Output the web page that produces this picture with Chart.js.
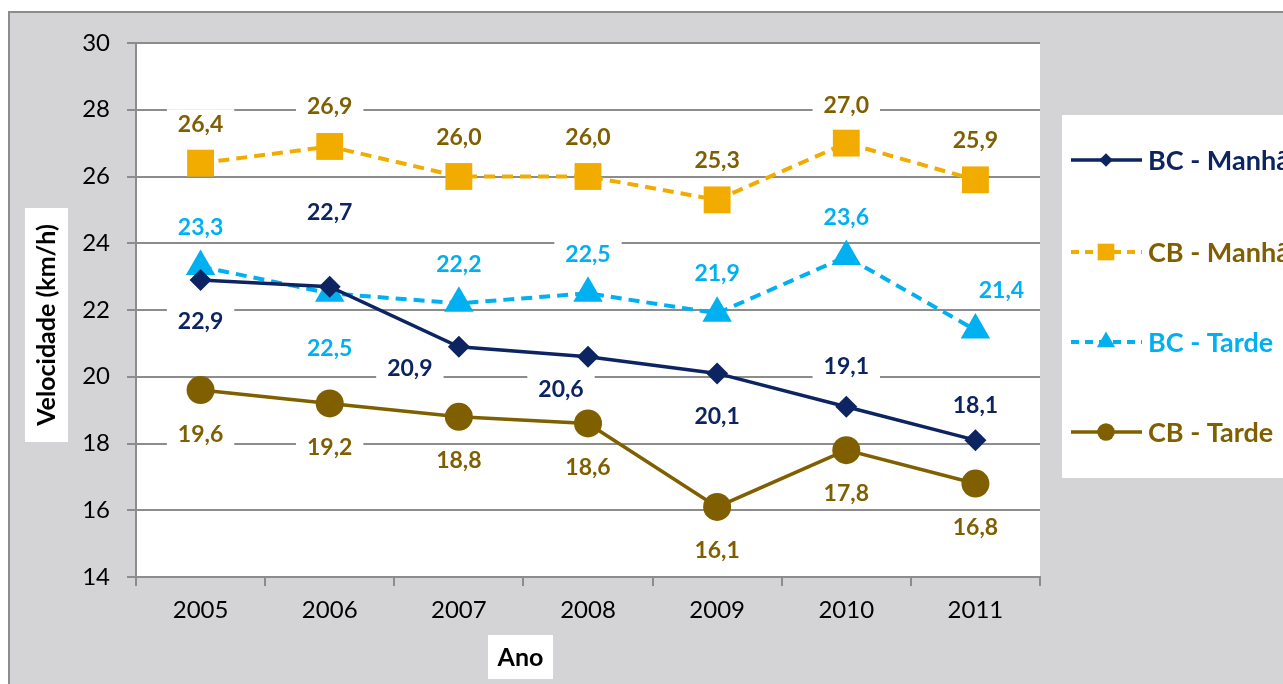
<!DOCTYPE html>
<html>
<head>
<meta charset="utf-8">
<script src="https://cdn.jsdelivr.net/npm/chart.js@4/dist/chart.umd.min.js"></script>
<style>
  html, body { margin: 0; padding: 0; background: #fff; }
  #wrap { width: 1283px; height: 684px; }
</style>
</head>
<body>
<div id="wrap"><canvas id="velocidade" width="1283" height="684"></canvas></div>
<script>
var anos = ["2005", "2006", "2007", "2008", "2009", "2010", "2011"];
var bcManha = [22.9, 22.7, 20.9, 20.6, 20.1, 19.1, 18.1];
var cbManha = [26.4, 26.9, 26.0, 26.0, 25.3, 27.0, 25.9];
var bcTarde = [23.3, 22.5, 22.2, 22.5, 21.9, 23.6, 21.4];
var cbTarde = [19.6, 19.2, 18.8, 18.6, 16.1, 17.8, 16.8];
var yTicks = [14, 16, 18, 20, 22, 24, 26, 28, 30];

// where each value label sits relative to its point, [dx, dy]
var posBcManha = [[0, 41], [0, -75], [-49, 21], [-27, 32], [0, 42], [0, -41], [0, -36]];
var posCbManha = [[0, -40], [0, -41], [0, -40], [0, -40], [0, -40], [0, -39], [0, -40]];
var posBcTarde = [[0, -40], [0, 54], [0, -40], [0, -40], [0, -41], [0, -40], [26, -40]];
var posCbTarde = [[0, 43], [0, 43], [0, 43], [0, 43], [0, 43], [0, 42], [0, 43]];

var NAVY = "#0c2461";
var GOLD = "#f2ac00";
var CYAN = "#00b0f0";
var BROWN = "#7f5f00";
var FONT = "Lato, 'Open Sans', sans-serif";

var series = [
  { label: "BC - Manhã", data: bcManha, color: NAVY, text: NAVY, dash: [], style: "rectRot", radius: 11, pos: posBcManha },
  { label: "CB - Manhã", data: cbManha, color: GOLD, text: BROWN, dash: [11, 7], style: "rect", radius: 19, pos: posCbManha },
  { label: "BC - Tarde", data: bcTarde, color: CYAN, text: CYAN, dash: [11, 7], style: "triangle", radius: 17, pos: posBcTarde },
  { label: "CB - Tarde", data: cbTarde, color: BROWN, text: BROWN, dash: [], style: "circle", radius: 14, pos: posCbTarde }
];

function fmt(v) {
  return v.toFixed(1).replace(".", ",");
}

// background frame, white plot area and axis titles
var moldura = {
  id: "moldura",
  beforeDraw: function(chart) {
    var ctx = chart.ctx;
    var a = chart.chartArea;
    ctx.save();
    ctx.fillStyle = "#fff";
    ctx.fillRect(0, 0, chart.width, chart.height);
    ctx.fillStyle = "#d4d4d6";
    ctx.fillRect(9, 12, chart.width, chart.height);
    ctx.strokeStyle = "#8c8c8c";
    ctx.lineWidth = 2;
    ctx.beginPath();
    ctx.moveTo(9, chart.height);
    ctx.lineTo(9, 12);
    ctx.lineTo(chart.width, 12);
    ctx.stroke();
    ctx.fillStyle = "#fff";
    ctx.fillRect(a.left, a.top, a.right - a.left, a.bottom - a.top);

    ctx.fillRect(25, 208, 43, 234);
    ctx.fillRect(488, 635, 65, 44);
    ctx.fillStyle = "#000";
    ctx.font = "bold 25px " + FONT;
    ctx.textAlign = "center";
    ctx.textBaseline = "middle";
    ctx.fillText("Ano", 520.5, 658);
    ctx.translate(47, 325);
    ctx.rotate(-Math.PI / 2);
    ctx.fillText("Velocidade (km/h)", 0, 0);
    ctx.restore();
  }
};

// value labels on white boxes
var rotulos = {
  id: "rotulos",
  afterDatasetsDraw: function(chart) {
    var ctx = chart.ctx;
    ctx.save();
    ctx.font = "bold 23px " + FONT;
    ctx.textAlign = "center";
    ctx.textBaseline = "middle";
    series.forEach(function(s, i) {
      var meta = chart.getDatasetMeta(i);
      meta.data.forEach(function(pt, j) {
        var txt = fmt(s.data[j]);
        var x = pt.x + s.pos[j][0];
        var y = pt.y + s.pos[j][1];
        var w = ctx.measureText(txt).width + 22;
        ctx.fillStyle = "#fff";
        ctx.fillRect(x - w / 2, y - 14, w, 28);
        ctx.fillStyle = s.text;
        ctx.fillText(txt, x, y + 1);
      });
    });
    ctx.restore();
  }
};

// legend box at the right
var legenda = {
  id: "legenda",
  afterDraw: function(chart) {
    var ctx = chart.ctx;
    var rows = [160, 252, 342, 432];
    ctx.save();
    ctx.fillStyle = "#fff";
    ctx.fillRect(1062, 115, 230, 363);
    series.forEach(function(s, i) {
      var y = rows[i];
      ctx.strokeStyle = s.color;
      ctx.lineWidth = s.dash.length ? 4 : 3.5;
      ctx.setLineDash(s.dash.length ? [8, 6] : []);
      ctx.beginPath();
      ctx.moveTo(1071, y);
      ctx.lineTo(1142, y);
      ctx.stroke();
      ctx.setLineDash([]);
      ctx.fillStyle = s.color;
      Chart.helpers.drawPoint(ctx, {
        pointStyle: s.style,
        radius: s.radius * 0.62,
        borderWidth: 0
      }, 1106, y);
      ctx.fillStyle = s.text;
      ctx.font = "bold 27px " + FONT;
      ctx.textBaseline = "middle";
      ctx.fillText(s.label, 1148, y + 1);
    });
    ctx.restore();
  }
};

var datasets = series.map(function(s) {
  return {
    label: s.label,
    data: s.data,
    borderColor: s.color,
    backgroundColor: s.color,
    borderWidth: s.dash.length ? 4 : 3.5,
    borderDash: s.dash,
    pointStyle: s.style,
    pointRadius: s.radius,
    pointHoverRadius: s.radius,
    pointBorderWidth: 0,
    tension: 0
  };
});

window.onload = function() {
  var ctx = document.getElementById("velocidade").getContext("2d");
  var myChart = new Chart(ctx, {
    type: "line",
    data: { labels: anos, datasets: datasets },
    options: {
      responsive: false,
      animation: false,
      events: [],
      layout: { padding: { left: 0, top: 43, right: 243, bottom: 0 } },
      plugins: { legend: { display: false }, tooltip: { enabled: false } },
      scales: {
        x: {
          offset: true,
          afterFit: function(scale) { scale.height = 107; },
          grid: { offset: true, drawOnChartArea: false, color: "#8c8c8c", lineWidth: 2, tickLength: 9 },
          border: { color: "#8c8c8c", width: 2 },
          ticks: { color: "#000", font: { family: FONT, size: 24 }, padding: 10 }
        },
        y: {
          min: 14,
          max: 30,
          afterFit: function(scale) { scale.width = 136; },
          afterBuildTicks: function(scale) {
            scale.ticks = yTicks.map(function(v) { return { value: v }; });
          },
          grid: { color: "#8c8c8c", lineWidth: 2, tickLength: 9 },
          border: { color: "#8c8c8c", width: 2 },
          ticks: { color: "#000", font: { family: FONT, size: 24 }, padding: 17 }
        }
      }
    },
    plugins: [moldura, rotulos, legenda]
  });
};
</script>
</body>
</html>
